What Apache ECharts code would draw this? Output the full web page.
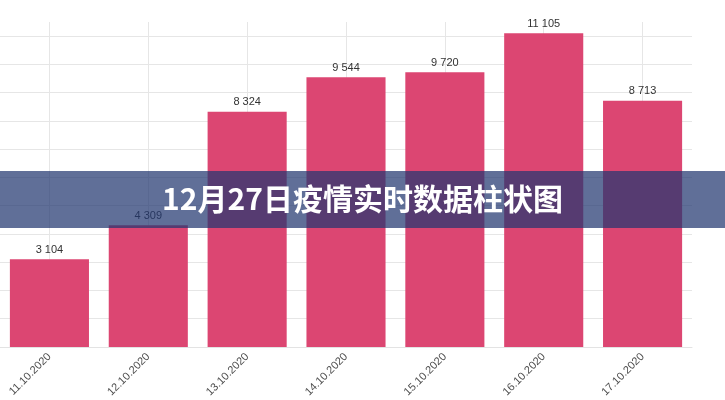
<!DOCTYPE html>
<html>
<head>
<meta charset="utf-8">
<script src="https://cdn.jsdelivr.net/npm/echarts@6/dist/echarts.min.js"></script>
<style>
html,body{margin:0;padding:0;background:#fff;}
#main{width:725px;height:400px;}
</style>
</head>
<body>
<div id="main"></div>
<script>
var categories = ['11.10.2020','12.10.2020','13.10.2020','14.10.2020','15.10.2020','16.10.2020','17.10.2020'];
var cases = [3104, 4309, 8324, 9544, 9720, 11105, 8713];
var titleText = '12月27日疫情实时数据柱状图';

function fmt(v){ return String(v).replace(/\B(?=(\d{3})+(?!\d))/g, ' '); }

var chart = echarts.init(document.getElementById('main'), null, {renderer:'canvas'});
chart.setOption({
  animation: false,
  backgroundColor: '#ffffff',
  grid: { left: 0, top: 22, width: 692, bottom: 53, containLabel: false },
  xAxis: {
    type: 'category',
    data: categories,
    axisLine: { show: true, lineStyle: { color: '#e3e3e3', width: 1 } },
    axisTick: { show: false },
    splitLine: { show: true, alignWithLabel: true, lineStyle: { color: '#e6e6e6', width: 1 } },
    axisLabel: { rotate: 45, margin: 8, color: '#4d4d4d', fontSize: 11, fontFamily: 'Liberation Sans, Arial, sans-serif' }
  },
  yAxis: {
    type: 'value',
    min: 0, max: 11500, interval: 1000,
    axisLabel: { show: false },
    axisLine: { show: false },
    axisTick: { show: false },
    splitLine: { show: true, showMaxLine: false, lineStyle: { color: '#e6e6e6', width: 1 } }
  },
  series: [{
    type: 'bar',
    data: cases,
    barCategoryGap: '20%',
    itemStyle: { color: '#dc4672' },
    label: {
      show: true, position: 'top', distance: 4,
      color: '#333333', fontSize: 11, fontFamily: 'Liberation Sans, Arial, sans-serif',
      formatter: function(p){ return fmt(p.value); }
    }
  }],
  graphic: [
    { type: 'rect', left: 0, top: 171, z: 100, shape: { width: 725, height: 57 },
      style: { fill: 'rgba(34,56,112,0.72)' } },
    { type: 'text', left: 'center', top: 184, z: 101,
      style: { text: titleText, fill: '#ffffff', fontSize: 30, fontWeight: 'bold',
        fontFamily: '"Noto Sans CJK SC", sans-serif' } }
  ]
});
</script>
</body>
</html>
